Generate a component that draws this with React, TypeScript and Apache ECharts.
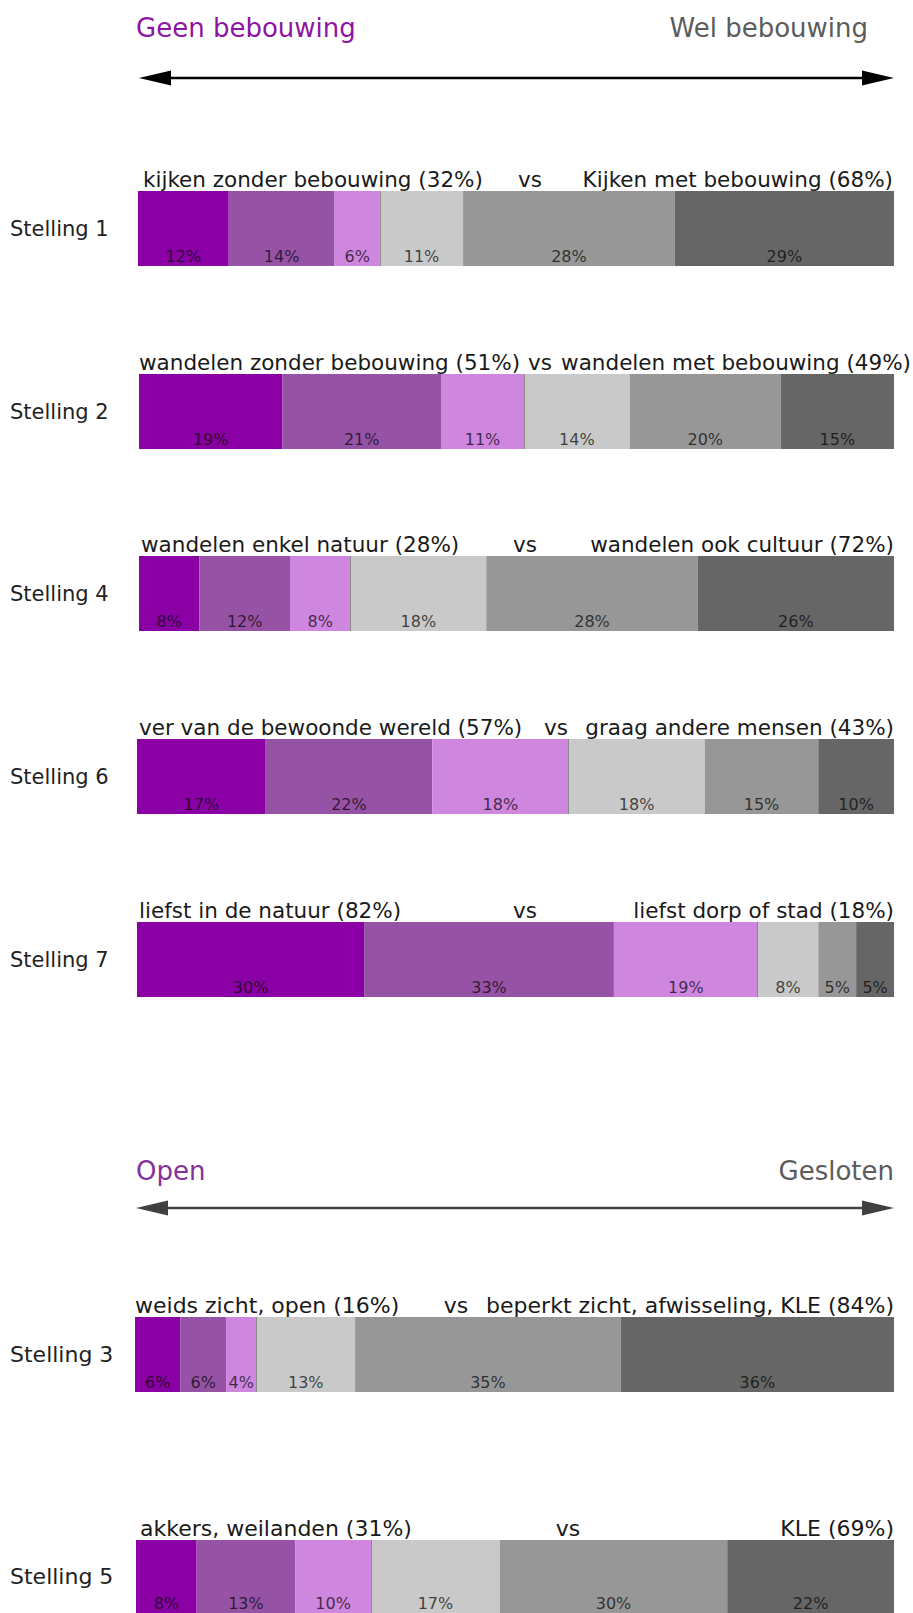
import React, { useEffect, useRef } from "react";
import * as echarts from "echarts";

// ---- data ----
const categories = ["Stelling 1", "Stelling 2", "Stelling 4", "Stelling 6", "Stelling 7", "Stelling 3", "Stelling 5"];
const leftLabels = [
  "kijken zonder bebouwing (32%)",
  "wandelen zonder bebouwing (51%)",
  "wandelen enkel natuur (28%)",
  "ver van de bewoonde wereld (57%)",
  "liefst in de natuur (82%)",
  "weids zicht, open (16%)",
  "akkers, weilanden (31%)",
];
const rightLabels = [
  "Kijken met bebouwing (68%)",
  "wandelen met bebouwing (49%)",
  "wandelen ook cultuur (72%)",
  "graag andere mensen (43%)",
  "liefst dorp of stad (18%)",
  "beperkt zicht, afwisseling, KLE (84%)",
  "KLE (69%)",
];
const vsLabel = "vs";
// segments, left (purple) to right (gray), per statement in display order
const seg1 = [12, 19, 8, 17, 30, 6, 8];
const seg2 = [14, 21, 12, 22, 33, 6, 13];
const seg3 = [6, 11, 8, 18, 19, 4, 10];
const seg4 = [11, 14, 18, 18, 8, 13, 17];
const seg5 = [28, 20, 28, 15, 5, 35, 30];
const seg6 = [29, 15, 26, 10, 5, 36, 22];
const segments = [seg1, seg2, seg3, seg4, seg5, seg6];
const headers1 = ["Geen bebouwing", "Wel bebouwing"];
const headers2 = ["Open", "Gesloten"];

// ---- styles / layout ----
const segColors = ["#8B00A5", "#9653A5", "#CF86DF", "#C9C9C9", "#979797", "#666666"];
const FONT = 'Verdana, "DejaVu Sans", sans-serif';
const layout = [
  { top: 191, left: 138, right: 19, leftX: 143, vsX: 530, rightX: 893, big: false },
  { top: 374, left: 139, right: 19, leftX: 139, vsX: 540, rightX: 911, big: false },
  { top: 556, left: 139, right: 19, leftX: 141, vsX: 525, rightX: 894, big: false },
  { top: 739, left: 137, right: 19, leftX: 139, vsX: 556, rightX: 894, big: false },
  { top: 922, left: 137, right: 19, leftX: 139, vsX: 525, rightX: 894, big: false },
  { top: 1317, left: 135, right: 19, leftX: 135, vsX: 456, rightX: 894, big: true },
  { top: 1540, left: 136, right: 19, leftX: 140, vsX: 568, rightX: 894, big: true },
];
const BAR_H = 75;

function arrow(y: number, x1: number, x2: number, color: string) {
  return [
    { type: "line", shape: { x1: x1 + 20, y1: y, x2: x2 - 20, y2: y }, style: { stroke: color, lineWidth: 2.5 } },
    { type: "polygon", shape: { points: [[x1, y], [x1 + 32, y - 7.5], [x1 + 32, y + 7.5]] }, style: { fill: color } },
    { type: "polygon", shape: { points: [[x2, y], [x2 - 32, y - 7.5], [x2 - 32, y + 7.5]] }, style: { fill: color } },
  ];
}

export default function App() {
  const ref = useRef<HTMLDivElement>(null);
  useEffect(() => {
    document.body.style.margin = "0";
    const chart = echarts.init(ref.current!, null, { renderer: "svg" });
    const grids: any[] = [];
    const xAxes: any[] = [];
    const yAxes: any[] = [];
    const series: any[] = [];
    const graphics: any[] = [];
    categories.forEach((cat, i) => {
      const L = layout[i];
      grids.push({ left: L.left, right: L.right, top: L.top, height: BAR_H });
      xAxes.push({ gridIndex: i, type: "value", min: 0, max: 100, show: false });
      yAxes.push({
        gridIndex: i,
        type: "category",
        data: [cat],
        axisLine: { show: false },
        axisTick: { show: false },
        axisLabel: {
          align: "left",
          margin: L.left - 10,
          fontSize: L.big ? 22 : 21,
          fontFamily: FONT,
          color: "#222",
        },
      });
      const neutral = seg1[i] + seg2[i] + seg3[i];
      segments.forEach((seg, k) => {
        series.push({
          type: "bar",
          xAxisIndex: i,
          yAxisIndex: i,
          stack: "s" + i,
          barWidth: BAR_H,
          data: [seg[i]],
          itemStyle: { color: segColors[k] },
          label: {
            show: true,
            position: "insideBottom",
            distance: 2,
            formatter: "{c}%",
            fontSize: 16,
            fontFamily: FONT,
            color: "rgba(0,0,0,0.7)",
          },
          markLine:
            k === 3
              ? {
                  silent: true,
                  symbol: "none",
                  label: { show: false },
                  lineStyle: { color: "#8a8a8a", width: 1, type: "solid" },
                  data: [{ xAxis: neutral }],
                }
              : undefined,
        });
      });
      const ty = L.top - 12;
      const ts = { fontSize: L.big ? 22 : 21.5, fontFamily: FONT, fill: "#1a1a1a", textVerticalAlign: "middle" };
      graphics.push(
        { type: "text", x: L.leftX, y: ty, style: { ...ts, text: leftLabels[i], textAlign: "left" } },
        { type: "text", x: L.vsX, y: ty, style: { ...ts, text: vsLabel, textAlign: "center" } },
        { type: "text", x: L.rightX, y: ty, style: { ...ts, text: rightLabels[i], textAlign: "right" } }
      );
    });
    graphics.push(
      { type: "text", x: 136, y: 28, style: { text: headers1[0], fontSize: 26, fontFamily: FONT, fill: "#8E14A3", textVerticalAlign: "middle" } },
      { type: "text", x: 868, y: 28, style: { text: headers1[1], fontSize: 26, fontFamily: FONT, fill: "#5c5c5c", textAlign: "right", textVerticalAlign: "middle" } },
      ...arrow(78, 139, 894, "#000"),
      { type: "text", x: 136, y: 1171, style: { text: headers2[0], fontSize: 26, fontFamily: FONT, fill: "#84329A", textVerticalAlign: "middle" } },
      { type: "text", x: 894, y: 1171, style: { text: headers2[1], fontSize: 26, fontFamily: FONT, fill: "#5c5c5c", textAlign: "right", textVerticalAlign: "middle" } },
      ...arrow(1208, 136, 894, "#404040")
    );
    chart.setOption({
      animation: false,
      backgroundColor: "#fff",
      grid: grids,
      xAxis: xAxes,
      yAxis: yAxes,
      series,
      graphic: graphics,
    });
    return () => chart.dispose();
  }, []);
  return <div ref={ref} style={{ width: 913, height: 1613 }} />;
}
